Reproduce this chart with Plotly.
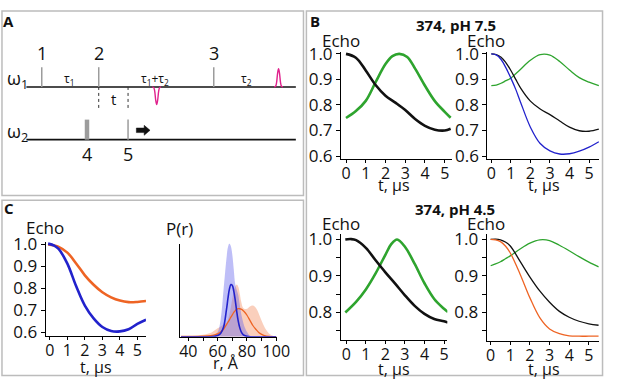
import plotly.graph_objects as go

W, H = 617, 385
FONT = "Open Sans"

# ---------------- Panel B : 374, pH 7.5 ----------------
t75_black = [0, 0.5, 1.0, 1.5, 2.0, 2.5, 3.0, 3.5, 4.0, 4.5, 5.0, 5.3]
echo75_black = [1.0, 0.985, 0.935, 0.878, 0.836, 0.809, 0.780, 0.745, 0.718, 0.703, 0.700, 0.707]
t75_green = [0, 0.5, 1.0, 1.5, 2.0, 2.35, 2.7, 3.1, 3.5, 4.0, 4.5, 5.0, 5.3]
echo75_green = [0.749, 0.776, 0.816, 0.889, 0.960, 0.991, 1.0, 0.988, 0.942, 0.875, 0.815, 0.773, 0.750]

t75_fit = [0, 0.25, 0.5, 0.75, 1.0, 1.25, 1.5, 2.0, 2.5, 3.0, 3.5, 4.0, 4.5, 5.0, 5.5]
fit75_blue = [1.0, 0.996, 0.978, 0.945, 0.905, 0.861, 0.810, 0.713, 0.649, 0.620, 0.608, 0.609, 0.619, 0.635, 0.656]
fit75_black = [1.0, 0.997, 0.987, 0.965, 0.935, 0.900, 0.866, 0.815, 0.784, 0.762, 0.737, 0.713, 0.699, 0.697, 0.705]
fit75_green = [0.876, 0.878, 0.885, 0.895, 0.905, 0.922, 0.940, 0.975, 0.997, 0.995, 0.970, 0.937, 0.907, 0.889, 0.876]

# ---------------- Panel B : 374, pH 4.5 ----------------
t45_black = [-0.05, 0.25, 0.5, 1.0, 1.5, 2.0, 2.5, 3.0, 3.5, 4.0, 4.5, 5.0, 5.2]
echo45_black = [1.0, 1.001, 0.998, 0.977, 0.943, 0.910, 0.879, 0.847, 0.818, 0.796, 0.782, 0.776, 0.772]
t45_green = [-0.05, 0.5, 1.0, 1.5, 2.0, 2.3, 2.6, 3.0, 3.5, 4.0, 4.5, 5.0, 5.2]
echo45_green = [0.800, 0.829, 0.863, 0.907, 0.958, 0.987, 1.0, 0.980, 0.933, 0.880, 0.837, 0.810, 0.801]

t45_fit = [0, 0.25, 0.5, 0.75, 1.0, 1.5, 2.0, 2.5, 3.0, 3.5, 4.0, 4.5, 5.0, 5.5]
fit45_orange = [1.0, 0.999, 0.994, 0.982, 0.963, 0.905, 0.840, 0.786, 0.755, 0.742, 0.736, 0.735, 0.735, 0.735]
fit45_black = [1.0, 1.001, 0.999, 0.993, 0.982, 0.940, 0.897, 0.859, 0.828, 0.803, 0.787, 0.776, 0.769, 0.765]
fit45_green = [0.928, 0.933, 0.939, 0.947, 0.955, 0.974, 0.990, 0.999, 0.997, 0.984, 0.969, 0.953, 0.938, 0.925]

# ---------------- Panel C ----------------
tC = [-0.1, 0.25, 0.5, 1.0, 1.5, 2.0, 2.5, 3.0, 3.5, 4.0, 4.5, 5.0, 5.5]
echoC_orange = [1.0, 0.995, 0.989, 0.963, 0.914, 0.860, 0.817, 0.783, 0.760, 0.745, 0.738, 0.739, 0.743]
echoC_blue = [1.004, 0.995, 0.980, 0.913, 0.811, 0.722, 0.664, 0.625, 0.607, 0.605, 0.615, 0.639, 0.658]

r_A = [35, 40, 45, 50, 55, 58, 60, 62, 64, 66, 67, 68, 69, 70, 71, 72, 73, 74, 75, 76, 77, 78,
       80, 82, 84, 86, 88, 90, 92, 95, 98, 100]
P_blue = [0, 0, 0, 0, 0, 0.005, 0.012, 0.035, 0.10, 0.29, 0.41, 0.51, 0.56, 0.55, 0.49, 0.39, 0.27,
          0.17, 0.10, 0.055, 0.03, 0.015, 0.004, 0, 0, 0, 0, 0, 0, 0, 0, 0]
P_orange = [0.002, 0.003, 0.004, 0.005, 0.01, 0.02, 0.03, 0.05, 0.08, 0.13, 0.155, 0.18, 0.21, 0.235,
            0.26, 0.28, 0.293, 0.30, 0.30, 0.295, 0.285, 0.27, 0.23, 0.175, 0.12, 0.08, 0.045, 0.025,
            0.012, 0.004, 0.001, 0]
band_blue = [0, 0, 0, 0, 0, 0.02, 0.05, 0.18, 0.50, 0.84, 0.96, 1.0, 0.97, 0.88, 0.72, 0.56, 0.50,
             0.45, 0.35, 0.25, 0.18, 0.12, 0.05, 0.01, 0, 0, 0, 0, 0, 0, 0, 0]
band_orange = [0, 0.005, 0.01, 0.02, 0.04, 0.07, 0.09, 0.11, 0.13, 0.15, 0.18, 0.24, 0.32, 0.41, 0.49,
               0.54, 0.56, 0.54, 0.47, 0.38, 0.32, 0.30, 0.30, 0.325, 0.335, 0.31, 0.25, 0.17, 0.10,
               0.035, 0.008, 0]

# ---------------- Panel A : pulse sequence schematic ----------------
w1_pulses = [41.7, 100, 217.7]
w1_labels = ["1", "2", "3"]
w2_pulses = [88, 130]
w2_widths = [4.5, 1.5]
w2_labels = ["4", "5"]
dotted_x = [100, 130]
pulse_dx = [-4.5, -3, -2, -1, 0, 1, 2, 3, 4.5]
pulse_shape = [0, 0.04, 0.25, 0.75, 1, 0.75, 0.25, 0.04, 0]
echo_pos = [159.3, 284]
echo_amp = [18.6, -19]
arrow_x = [138.5, 146.5, 146.5, 152.5, 146.5, 146.5, 138.5, 138.5]
arrow_y = [123.8, 123.8, 121.0, 126.2, 131.4, 128.6, 128.6, 123.8]
line_y = [80.7, 136]
line_x = [26, 301.7]

GREEN = "#2ea42e"
BLACK = "#111111"
BLUE = "#2222cc"
ORANGE = "#ee6424"
MAGENTA = "#e0208c"
GRAY = "#9c9c9c"


def dx(x0, x1):
    return [x0 / W, x1 / W]


def dy(top, bottom):
    return [1 - bottom / H, 1 - top / H]


fig = go.Figure()


def line(x, y, color, width, xa, ya, dash=None, shape="spline"):
    fig.add_trace(go.Scatter(x=x, y=y, mode="lines", xaxis=xa, yaxis=ya,
                             line=dict(color=color, width=width, shape=shape, dash=dash),
                             hoverinfo="skip", showlegend=False))


# B top-left: data
line(t75_green, echo75_green, GREEN, 2.6, "x", "y")
line(t75_black, echo75_black, BLACK, 2.6, "x", "y")
# B top-right: fits
line(t75_fit, fit75_green, GREEN, 1.3, "x2", "y2")
line(t75_fit, fit75_black, BLACK, 1.3, "x2", "y2")
line(t75_fit, fit75_blue, BLUE, 1.3, "x2", "y2")
# B bottom-left
line(t45_green, echo45_green, GREEN, 2.6, "x3", "y3")
line(t45_black, echo45_black, BLACK, 2.6, "x3", "y3")
# B bottom-right
line(t45_fit, fit45_green, GREEN, 1.3, "x4", "y4")
line(t45_fit, fit45_black, BLACK, 1.3, "x4", "y4")
line(t45_fit, fit45_orange, ORANGE, 1.3, "x4", "y4")
# C left
line(tC, echoC_orange, ORANGE, 2.6, "x5", "y5")
line(tC, echoC_blue, BLUE, 2.6, "x5", "y5")
# C right
fig.add_trace(go.Scatter(x=r_A, y=band_orange, mode="lines", fill="tozeroy", xaxis="x6", yaxis="y6",
                         line=dict(width=0, shape="spline"), fillcolor="rgba(242,130,80,0.38)",
                         hoverinfo="skip", showlegend=False))
fig.add_trace(go.Scatter(x=r_A, y=band_blue, mode="lines", fill="tozeroy", xaxis="x6", yaxis="y6",
                         line=dict(width=0, shape="spline"), fillcolor="rgba(100,100,235,0.42)",
                         hoverinfo="skip", showlegend=False))
line(r_A, P_orange, ORANGE, 1.3, "x6", "y6")
line(r_A, P_blue, BLUE, 1.6, "x6", "y6")

# A schematic
for yv in line_y:
    line(line_x, [yv, yv], BLACK, 1.6, "x7", "y7", shape="linear")
for xp in w1_pulses:
    line([xp, xp], [60, line_y[0]], GRAY, 1.5, "x7", "y7", shape="linear")
for xp, wd in zip(w2_pulses, w2_widths):
    line([xp, xp], [115, line_y[1]], GRAY, wd, "x7", "y7", shape="linear")
for xp in dotted_x:
    line([xp, xp], [line_y[0], 103], "#333333", 1, "x7", "y7", dash="dot", shape="linear")
for xp, amp in zip(echo_pos, echo_amp):
    line([xp + d for d in pulse_dx], [line_y[0] + amp * s for s in pulse_shape], MAGENTA, 1.4,
         "x7", "y7")
fig.add_trace(go.Scatter(x=arrow_x, y=arrow_y, mode="lines", fill="toself", fillcolor=BLACK,
                         line=dict(color=BLACK, width=0.5), xaxis="x7", yaxis="y7",
                         hoverinfo="skip", showlegend=False))

common = dict(showline=True, linecolor="black", linewidth=1.2, ticks="outside", ticklen=4,
              tickwidth=1.1, tickcolor="black", showgrid=False, zeroline=False,
              tickfont=dict(size=17, color="#111", family=FONT), fixedrange=True)
xcommon = dict(common, ticklen=3, ticklabelstandoff=-3,
               tickfont=dict(size=16, color="#111", family=FONT))

txt = dict(tickvals=[0, 1, 2, 3, 4, 5])
y6 = dict(tickvals=[0.6, 0.7, 0.8, 0.9, 1.0], ticktext=["0.6", "0.7", "0.8", "0.9", "1.0"])
y3 = dict(tickvals=[0.8, 0.9, 1.0], ticktext=["0.8", "0.9", "1.0"],
          minor=dict(tickvals=[0.75, 0.85, 0.95], ticks="outside", ticklen=4, tickcolor="black",
                     tickwidth=1.1))

fig.update_layout(
    width=W, height=H, margin=dict(l=0, r=0, t=0, b=0),
    paper_bgcolor="white", plot_bgcolor="rgba(0,0,0,0)",
    font=dict(family=FONT, color="#111"),
    xaxis=dict(domain=dx(348, 461.5), range=[-0.248, 5.37], anchor="y", **txt, **xcommon),
    yaxis=dict(domain=dy(44, 156), range=[0.5896, 1.0075], anchor="x", **y6, **common),
    xaxis2=dict(domain=dx(497.7, 612), range=[-0.2, 5.515], anchor="y2", **txt, **xcommon),
    yaxis2=dict(domain=dy(44, 156), range=[0.5896, 1.0075], anchor="x2", **y6, **common),
    xaxis3=dict(domain=dx(347.7, 456.7), range=[-0.28, 5.17], anchor="y3", **txt, **xcommon),
    yaxis3=dict(domain=dy(235, 346), range=[0.725, 1.0149], anchor="x3", **y3, **common),
    xaxis4=dict(domain=dx(497, 611.7), range=[-0.2, 5.507], anchor="y4", **txt, **xcommon),
    yaxis4=dict(domain=dy(235, 347), range=[0.7225, 1.0149], anchor="x4", **y3, **common),
    xaxis5=dict(domain=dx(45.7, 148.3), range=[-0.24, 5.49], anchor="y5", **txt, **xcommon),
    yaxis5=dict(domain=dy(243.3, 341.7), range=[0.5854, 1.0117], anchor="x5", **y6, **common),
    xaxis6=dict(domain=dx(183.3, 282), range=[34.4, 100.2], anchor="y6",
                tickvals=[40, 60, 80, 100],
                minor=dict(tickvals=[50, 70, 90], ticks="outside", ticklen=3, tickcolor="black",
                           tickwidth=1.1), **xcommon),
    yaxis6=dict(domain=dy(245, 342.7), range=[0, 1.0], anchor="x6", showline=True,
                linecolor="black", linewidth=1.2, showticklabels=False, ticks="",
                showgrid=False, zeroline=False, fixedrange=True),
    xaxis7=dict(domain=dx(0, 310), range=[0, 310], anchor="y7", visible=False, fixedrange=True),
    yaxis7=dict(domain=dy(0, 195), range=[195, 0], anchor="x7", visible=False, fixedrange=True),
)

ann = []


def A(x, y, text, size=17, bold=False, color="#111", xanchor="center"):
    ann.append(dict(x=x / W, y=1 - y / H, xref="paper", yref="paper", text=("<b>%s</b>" % text) if bold else text,
                    showarrow=False, xanchor=xanchor, yanchor="middle",
                    font=dict(size=size, color=color, family=FONT)))


# panel letters
A(8, 12, "A", 15, True)
A(321, 12, "B", 15, True)
A(8, 208, "C", 15, True)
# titles
A(465.8, 16, "374, pH 7.5", 15, True)
A(464.2, 208.5, "374, pH 4.5", 15, True)
# Echo labels
for (x, y) in [(347.5, 31.5), (495.8, 31.5), (347.5, 224), (495.8, 224), (45.5, 228)]:
    A(x, y, "Echo", 17)
A(182.5, 229, "P(r)", 17)
# x-axis titles
for (x, y) in [(402.5, 184), (555.8, 184), (402.5, 376.5), (555.8, 376.5), (97, 375)]:
    A(x, y, "t, µs", 16)
A(230, 370.5, "r, Å", 16)
# schematic texts
for xp, lab in zip(w1_pulses, w1_labels):
    A(xp, 45, lab, 18)
for xp, lab in zip(w2_pulses, w2_labels):
    A(xp, 151.5, lab, 18)
A(17, 73, "ω<sub>1</sub>", 18)
A(17, 129, "ω<sub>2</sub>", 18)
A(70, 72, "τ<sub>1</sub>", 12)
A(158, 72, "τ<sub>1</sub>+τ<sub>2</sub>", 12)
A(251.7, 72, "τ<sub>2</sub>", 12)
A(115, 93, "t", 15)

fig.update_layout(annotations=ann)

shapes = []
for (x0, y0, x1, y1) in [(1, 1, 309.5, 194.5), (1, 199.5, 309.5, 383.5), (312.5, 1, 615.5, 383.5)]:
    shapes.append(dict(type="rect", xref="paper", yref="paper", x0=x0 / W, x1=x1 / W,
                       y0=1 - y1 / H, y1=1 - y0 / H, line=dict(color="#bcbcbc", width=1.5)))
fig.update_layout(shapes=shapes)

fig.write_html("out.html", config={"displayModeBar": False},
               post_script="document.body.style.margin='0';document.body.style.overflow='hidden';")
